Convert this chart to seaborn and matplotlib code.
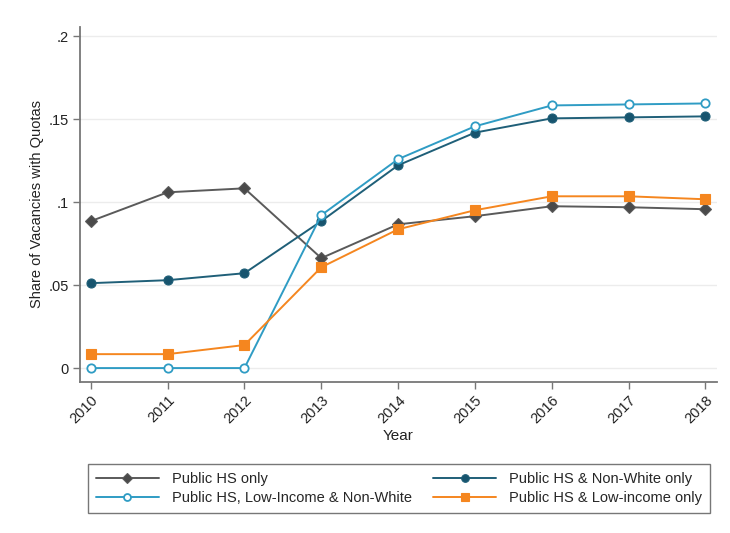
import matplotlib
matplotlib.use("Agg")
import matplotlib.pyplot as plt
import seaborn as sns
import pandas as pd
from matplotlib.lines import Line2D

# Share of vacancies with quotas, by quota type and year
years = [2010, 2011, 2012, 2013, 2014, 2015, 2016, 2017, 2018]
public_hs_only = [0.0886, 0.1060, 0.1084, 0.0663, 0.0867, 0.0916, 0.0976, 0.0970, 0.0958]
public_hs_nonwhite = [0.0512, 0.0530, 0.0572, 0.0886, 0.1223, 0.1420, 0.1506, 0.1512, 0.1518]
public_hs_lowinc_nonwhite = [0.0, 0.0, 0.0, 0.0922, 0.1260, 0.1458, 0.1584, 0.1590, 0.1596]
public_hs_lowinc = [0.0084, 0.0084, 0.0139, 0.0608, 0.0837, 0.0952, 0.1036, 0.1036, 0.1018]

series_names = [
    "Public HS only",
    "Public HS & Non-White only",
    "Public HS, Low-Income & Non-White",
    "Public HS & Low-income only",
]
y_ticks = [0, 0.05, 0.1, 0.15, 0.2]
y_tick_labels = ["0", ".05", ".1", ".15", ".2"]

df = pd.DataFrame({
    "Year": years * 4,
    "Share": public_hs_only + public_hs_nonwhite + public_hs_lowinc_nonwhite + public_hs_lowinc,
    "Series": sum([[n] * len(years) for n in series_names], []),
})

sns.set_theme(style="white")
plt.rcParams["font.family"] = ["Liberation Sans", "DejaVu Sans"]

styles = {
    "Public HS only": dict(line="#5a5a5a", face="#4a4a4a", marker="D", ms=6.0, hollow=False),
    "Public HS & Non-White only": dict(line="#1f5f78", face="#17546e", marker="o", ms=6.5, hollow=False),
    "Public HS, Low-Income & Non-White": dict(line="#2f9cc4", face="white", marker="o", ms=6, hollow=True),
    "Public HS & Low-income only": dict(line="#f5861f", face="#f5861f", marker="s", ms=6.5, hollow=False),
}

fig = plt.figure(figsize=(7.3, 5.33), dpi=100)
ax = fig.add_axes([80 / 730, 1 - 382 / 533, (717 - 80) / 730, (382 - 27) / 533])

for y in y_ticks:
    ax.axhline(y, color="#ececec", lw=1.0, zorder=0)

for name in series_names:
    st = styles[name]
    sub = df[df["Series"] == name]
    sns.lineplot(
        data=sub, x="Year", y="Share", ax=ax, color=st["line"], lw=1.4,
        marker=st["marker"], markersize=st["ms"],
        markerfacecolor=st["face"], markeredgecolor=st["line"],
        markeredgewidth=1.3 if st["hollow"] else 0.8, legend=False, zorder=3,
    )

ax.set_xlim(2009.86, 2018.15)
ax.set_ylim(-0.0084, 0.2057)
ax.set_yticks(y_ticks)
ax.set_yticklabels(y_tick_labels, fontsize=10.5, color="#222222")
ax.set_xticks(years)
ax.set_xticklabels([str(y) for y in years], rotation=45, ha="right",
                   rotation_mode="anchor", fontsize=10.5, color="#222222")
ax.tick_params(axis="both", length=5, width=1, color="#777777", direction="out",
               left=True, bottom=True, pad=3)
ax.set_xlabel("Year", fontsize=11, color="#222222", labelpad=2)
ax.set_ylabel("Share of Vacancies with Quotas", fontsize=10.5, color="#222222", labelpad=3)

for side in ["top", "right"]:
    ax.spines[side].set_visible(False)
for side in ["left", "bottom"]:
    ax.spines[side].set_color("#777777")
    ax.spines[side].set_linewidth(1.3)

handles = []
for name in series_names:
    st = styles[name]
    handles.append(Line2D([0], [0], color=st["line"], lw=1.4, marker=st["marker"],
                          markersize=st["ms"] - 1, markerfacecolor=st["face"],
                          markeredgecolor=st["line"],
                          markeredgewidth=1.3 if st["hollow"] else 0.8))

order = [0, 2, 1, 3]
leg = fig.legend([handles[i] for i in order], [series_names[i] for i in order],
                 loc="lower left", bbox_to_anchor=(88 / 730, 1 - 513 / 533,
                                                   (710 - 88) / 730, (513 - 452) / 533),
                 mode="expand", ncol=2, fontsize=10.5, frameon=True, fancybox=False,
                 handlelength=4.3, handletextpad=0.9, borderaxespad=0,
                 columnspacing=1.0, labelspacing=0.35, borderpad=0.55)
leg.get_frame().set_edgecolor("#555555")
leg.get_frame().set_linewidth(1.0)

fig.savefig("out.png", dpi=100)
